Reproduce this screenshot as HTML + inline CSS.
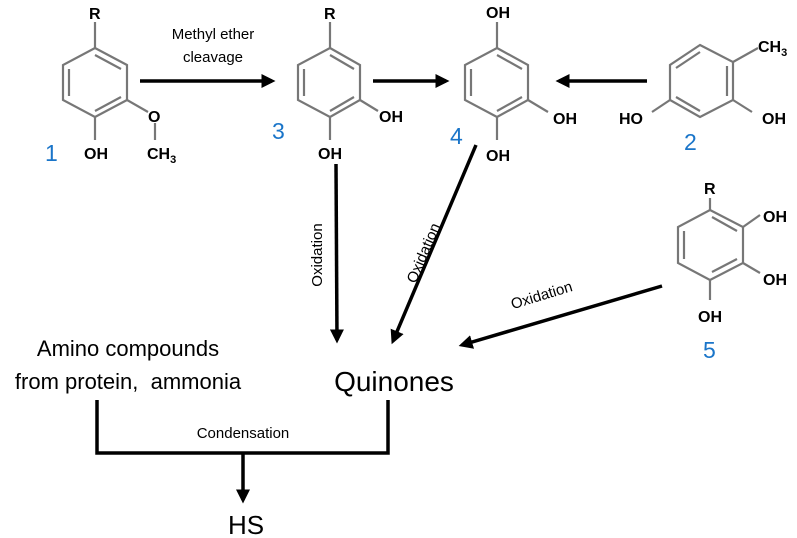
<!DOCTYPE html>
<html><head><style>body{margin:0;background:#fff}svg{display:block}</style></head><body>
<svg width="797" height="538" viewBox="0 0 797 538" xmlns="http://www.w3.org/2000/svg" font-family="Liberation Sans, sans-serif">
<defs><marker id="a" markerWidth="4" markerHeight="4" refX="3" refY="2" orient="auto" markerUnits="strokeWidth"><path d="M0,0 L4,2 L0,4 Z" fill="#000"/></marker></defs>
<g stroke="#777" stroke-width="2.2" fill="none">
<!-- mol 1 -->
<polygon points="95,48 127,65 127,100 95,117 63,100 63,65"/>
<path d="M95,55 L121,69 M69,69 L69,96 M121,97 L95,111 M95,48 L95,22 M95,117 L95,140 M127,100 L148,112 M155,123 L155,140"/>
<!-- mol 3 -->
<polygon points="330,48 360,65 360,100 330,117 298,100 298,65"/>
<path d="M330,55 L354,69 M304,69 L304,96 M354,97 L330,111 M330,48 L330,22 M330,117 L330,140 M360,100 L378,111"/>
<!-- mol 4 -->
<polygon points="497,48 528,65 528,100 497,117 465,100 465,65"/>
<path d="M497,55 L522,69 M471,69 L471,96 M522,97 L497,111 M497,48 L497,22 M497,117 L497,140 M528,100 L548,112"/>
<!-- mol 2 -->
<polygon points="700,45 733,62 733,100 700,117 670,100 670,65"/>
<path d="M700,52 L676,68 M727,66 L727,96 M700,111 L676,97 M733,62 L758,48 M733,100 L752,112 M670,100 L652,112"/>
<!-- mol 5 -->
<polygon points="710,210 743,227 743,263 710,280 678,263 678,227"/>
<path d="M684,231 L684,259 M712,217 L737,231 M737,259 L712,272 M710,210 L710,198 M743,227 L760,215 M743,263 L760,273 M710,280 L710,300"/>
</g>
<g font-size="16" fill="#000" font-weight="600">
<text x="89" y="19">R</text><text x="324" y="19">R</text><text x="704" y="194">R</text>
<text x="84" y="159">OH</text><text x="148" y="122">O</text><text x="147" y="159">CH<tspan font-size="11" dy="4">3</tspan></text>
<text x="318" y="159">OH</text><text x="379" y="122">OH</text>
<text x="486" y="18">OH</text><text x="553" y="124">OH</text><text x="486" y="161">OH</text>
<text x="758" y="52">CH<tspan font-size="11" dy="4">3</tspan></text><text x="762" y="124">OH</text><text x="619" y="124">HO</text>
<text x="763" y="222">OH</text><text x="763" y="285">OH</text><text x="698" y="322">OH</text>
</g>
<g font-size="23" fill="#1a75c9">
<text x="45" y="161">1</text><text x="272" y="139">3</text><text x="450" y="144">4</text><text x="684" y="150">2</text><text x="703" y="358">5</text>
</g>
<g stroke="#000" stroke-width="3.5" fill="none">
<line x1="140" y1="81" x2="272" y2="81" marker-end="url(#a)"/>
<line x1="373" y1="81" x2="446" y2="81" marker-end="url(#a)"/>
<line x1="647" y1="81" x2="559" y2="81" marker-end="url(#a)"/>
<line x1="336" y1="164" x2="337" y2="340" marker-end="url(#a)"/>
<line x1="476" y1="145" x2="393" y2="341" marker-end="url(#a)"/>
<line x1="662" y1="286" x2="462" y2="345" marker-end="url(#a)"/>
<polyline points="97,400 97,453 388,453 388,400"/>
<line x1="243" y1="453" x2="243" y2="500" marker-end="url(#a)"/>
</g>
<g font-size="15" fill="#000">
<text x="213" y="39" text-anchor="middle">Methyl ether</text>
<text x="213" y="62" text-anchor="middle">cleavage</text>
<text transform="translate(322,255) rotate(-90)" text-anchor="middle">Oxidation</text>
<text transform="translate(428,255) rotate(-67)" text-anchor="middle">Oxidation</text>
<text transform="translate(543,300) rotate(-17)" text-anchor="middle">Oxidation</text>
<text x="243" y="438" text-anchor="middle">Condensation</text>
</g>
<g font-size="22" fill="#000" text-anchor="middle">
<text x="128" y="356">Amino compounds</text>
<text x="128" y="389">from protein,&#160; ammonia</text>
<text x="394" y="391" font-size="28">Quinones</text>
<text x="246" y="534" font-size="26">HS</text>
</g>
</svg>
</body></html>
